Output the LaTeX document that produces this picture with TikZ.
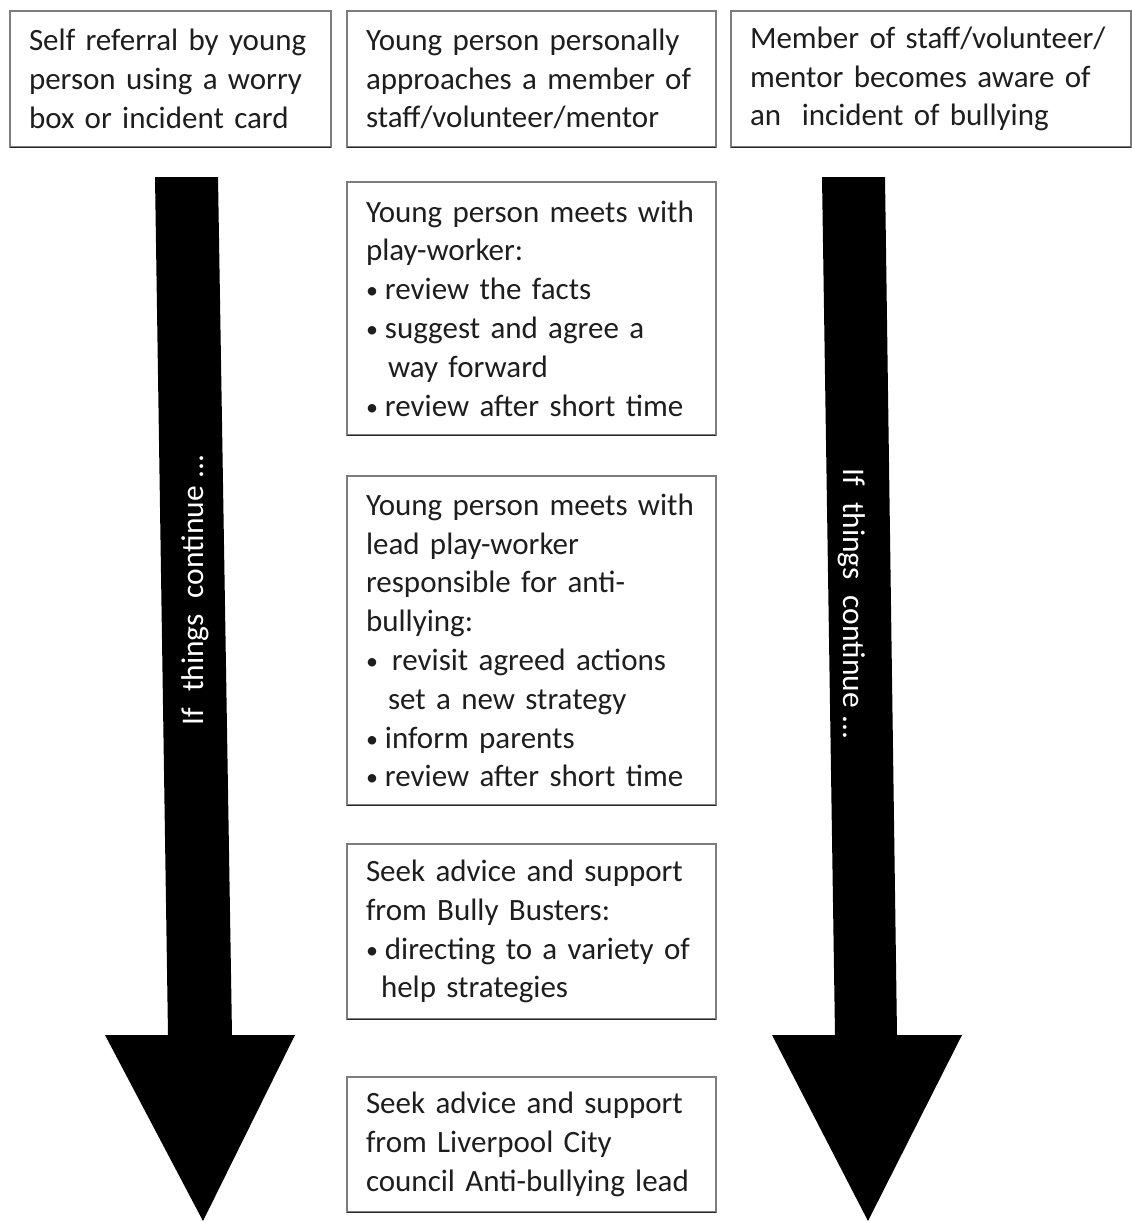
\documentclass[tikz,border=0pt]{standalone}
\usepackage{fontspec}
\setmainfont{Carlito}
\definecolor{boxgray}{RGB}{125,125,125}
\definecolor{edgedark}{RGB}{40,40,40}
\definecolor{txtcol}{RGB}{30,30,30}
\newcommand{\bul}{{\fontsize{24}{24}\selectfont\raisebox{1pt}{•}}\hspace{7pt}}
\newcommand{\gap}{\hspace{0.5em}}
\begin{document}
\begin{tikzpicture}[x=1pt,y=-1pt,
  box/.style={draw=boxgray, line width=2.6pt, fill=white, rectangle, outer sep=0pt,
    inner xsep=19pt, inner ysep=0pt, align=left, text=txtcol,
    font=\fontsize{31}{38.8}\selectfont, anchor=center},
  boxbottom/.style={draw=edgedark, line width=1.2pt},
  bigarrow/.style={fill=black, draw=none},
  arrowtext/.style={text=white, font=\fontsize{31.5}{38.8}\selectfont, inner sep=0pt}]
\useasboundingbox (0,0) rectangle (1132,1221);

% big down arrows
\fill[bigarrow] (155,177) -- (218,177) -- (232,1035) -- (295,1035) -- (203,1221)
  -- (105,1035) -- (168,1035) -- cycle;
\fill[bigarrow] (822,177) -- (885,177) -- (897,1035) -- (962,1035) -- (868,1221)
  -- (772,1035) -- (835,1035) -- cycle;
\node[arrowtext, rotate=90] (tl) at (195,590) {If\gap things\gap continue ...};
\node[arrowtext, rotate=-90] (tr) at (852,604) {If\gap things\gap continue ...};

% boxes
\node[box, minimum width=321pt, minimum height=136pt, text width=283pt] (b1) at (170.5,79)
  {\mbox{Self referral by young}\\\mbox{person using a worry}\\\mbox{box or incident card}};
\node[box, minimum width=369pt, minimum height=136pt, text width=331pt] (b2) at (531.5,79)
  {\mbox{Young person personally}\\\mbox{approaches a member of}\\\mbox{staff/volunteer/mentor}};
\node[box, minimum width=400pt, minimum height=136pt, text width=362pt] (b3) at (931,79)
  {\mbox{Member of staff/volunteer/}\\\mbox{mentor becomes aware of}\\\mbox{an\ \ incident of bullying}};
\node[box, minimum width=369pt, minimum height=253pt, text width=331pt] (b4) at (531.5,308.5)
  {\mbox{Young person meets with}\\\mbox{play-worker:}\\\mbox{\bul review the facts}\\
   \mbox{\bul suggest and agree a}\\\mbox{\hspace*{22pt}way forward}\\\mbox{\bul review after short time}};
\node[box, minimum width=369pt, minimum height=329pt, text width=331pt] (b5) at (531.5,640.5)
  {\mbox{Young person meets with}\\\mbox{lead play-worker}\\\mbox{responsible for anti-}\\
   \mbox{bullying:}\\\mbox{\bul\hspace{7pt}revisit agreed actions}\\\mbox{\hspace*{22pt}set a new strategy}\\
   \mbox{\bul inform parents}\\\mbox{\bul review after short time}};
\node[box, minimum width=369pt, minimum height=175pt, text width=331pt] (b6) at (531.5,931.5)
  {\mbox{Seek advice and support}\\\mbox{from Bully Busters:}\\\mbox{\bul directing to a variety of}\\
   \mbox{\hspace*{15pt}help strategies}};
\node[box, minimum width=369pt, minimum height=135pt, text width=331pt] (b7) at (531.5,1144.5)
  {\mbox{Seek advice and support}\\\mbox{from Liverpool City}\\\mbox{council Anti-bullying lead}};

\foreach \b in {b1,b2,b3,b4,b5,b6,b7}
  \draw[boxbottom] ([yshift=-0.6pt]\b.south west) -- ([yshift=-0.6pt]\b.south east);
\end{tikzpicture}
\end{document}
